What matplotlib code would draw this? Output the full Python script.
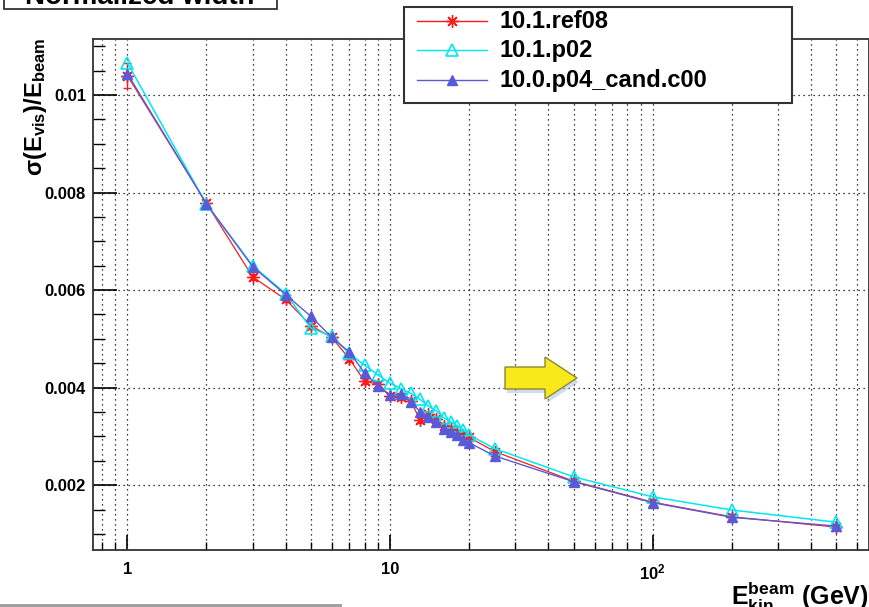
import numpy as np
import matplotlib.pyplot as plt
from matplotlib.patches import Rectangle, Polygon
from matplotlib.lines import Line2D
from matplotlib.ticker import FixedLocator, FixedFormatter, MultipleLocator, FuncFormatter

# ============================================================
# 1. data
# ============================================================

energy = [1, 2, 3, 4, 5, 6, 7, 8, 9, 10, 11, 12, 13, 14, 15,
          16, 17, 18, 19, 20, 25, 50, 100, 200, 500]

# 10.1.ref08
width_ref08 = [0.01040, 0.00778, 0.00627, 0.00581, 0.00527, 0.00503, 0.00459,
               0.00413, 0.00407, 0.00383, 0.00381, 0.00372, 0.00334, 0.00345,
               0.00336, 0.00322, 0.00315, 0.00308, 0.00303, 0.00298, 0.00269,
               0.00208, 0.00165, 0.00135, 0.00114]
err_ref08 = [0.00025, 0.00006, 0.00006, 0.00006, 0.00006, 0.00006, 0.00006,
             0.00006, 0.00006, 0.00006, 0.00006, 0.00006, 0.00006, 0.00006,
             0.00006, 0.00006, 0.00006, 0.00006, 0.00006, 0.00006, 0.00006,
             0.00006, 0.00006, 0.00006, 0.00006]

# 10.1.p02
width_p02 = [0.01066, 0.00776, 0.00650, 0.00593, 0.00522, 0.00505, 0.00470,
             0.00446, 0.00426, 0.00409, 0.00398, 0.00388, 0.00376, 0.00362,
             0.00352, 0.00338, 0.00330, 0.00322, 0.00313, 0.00303, 0.00275,
             0.00217, 0.00176, 0.00149, 0.00124]

# 10.0.p04_cand.c00
width_p04 = [0.01044, 0.00777, 0.00648, 0.00591, 0.00546, 0.00503, 0.00473,
             0.00430, 0.00403, 0.00384, 0.00386, 0.00371, 0.00351, 0.00340,
             0.00330, 0.00316, 0.00309, 0.00302, 0.00293, 0.00287, 0.00260,
             0.00207, 0.00164, 0.00134, 0.00116]

labels = ["10.1.ref08", "10.1.p02", "10.0.p04_cand.c00"]

y_ticks = [0.002, 0.004, 0.006, 0.008, 0.01]
x_ticks = [1, 10, 100]
x_ticklabels = ["1", "10", "10$^{2}$"]

# ============================================================
# 2. style
# ============================================================

plt.rcParams["font.family"] = ["Liberation Sans", "DejaVu Sans"]
plt.rcParams["font.weight"] = "bold"
plt.rcParams["mathtext.fontset"] = "custom"
plt.rcParams["mathtext.rm"] = "Liberation Sans:bold"
plt.rcParams["mathtext.bf"] = "Liberation Sans:bold"
plt.rcParams["mathtext.it"] = "Liberation Sans:bold"
plt.rcParams["mathtext.default"] = "bf"

W, H = 870, 607


def fx(px):
    return px / W


def fy(py):
    return 1 - py / H


c_red = "#ff1a1a"
c_cyan = "#00e8f0"
c_blue = "#5a5ad8"

# ============================================================
# 3. figure
# ============================================================

fig = plt.figure(figsize=(W / 100, H / 100), dpi=100)
ax = fig.add_axes([fx(93), fy(550), fx(869) - fx(93), fy(39) - fy(550)])

ax.errorbar(energy, width_ref08, yerr=err_ref08, color=c_red, lw=0.9,
            marker=(8, 2, 0), markersize=9, mew=1.0, capsize=3,
            elinewidth=1.0, zorder=3)
ax.plot(energy, width_p02, color=c_cyan, lw=1.1, marker="^",
        markersize=8.5, mfc="none", mec=c_cyan, mew=1.2, zorder=4)
ax.plot(energy, width_p04, color=c_blue, lw=1.0, marker="^",
        markersize=7.5, mfc=c_blue, mec=c_blue, zorder=5)

ax.set_xscale("log")
ax.set_xlim(0.74, 665)
ax.set_ylim(0.00067, 0.01115)

# ------------------------------------------------------------
# ticks
# ------------------------------------------------------------
ax.xaxis.set_major_locator(FixedLocator(x_ticks))
ax.xaxis.set_major_formatter(FixedFormatter(x_ticklabels))
minor_x = [m * 10.0 ** d for d in range(-1, 3) for m in range(2, 10)]
ax.xaxis.set_minor_locator(FixedLocator(minor_x))
ax.xaxis.set_minor_formatter(FixedFormatter([]))

ax.yaxis.set_major_locator(FixedLocator(y_ticks))
ax.yaxis.set_major_formatter(FuncFormatter(lambda v, p: f"{v:g}"))
ax.yaxis.set_minor_locator(MultipleLocator(0.0005))

ax.tick_params(axis="x", which="major", direction="in", length=10.5,
               width=1.2, pad=9, labelsize=12)
ax.tick_params(axis="x", which="minor", direction="in", length=5.5,
               width=1.0)
ax.tick_params(axis="y", which="major", direction="in", length=17,
               width=1.2, pad=5, labelsize=12)
ax.tick_params(axis="y", which="minor", direction="in", length=8.5,
               width=1.0)

# ------------------------------------------------------------
# grid
# ------------------------------------------------------------
ax.grid(which="major", axis="both", color="black", lw=0.9,
        linestyle=(0, (1, 3)))
ax.grid(which="minor", axis="x", color="black", lw=0.9,
        linestyle=(0, (1, 3)))
ax.set_axisbelow(True)

for s in ax.spines.values():
    s.set_linewidth(1.3)
    s.set_color("#333333")

# ============================================================
# 4. axis titles
# ============================================================

fig.text(fx(36), fy(38), "σ(E$_{vis}$)/E$_{beam}$", rotation=90,
         ha="center", va="top", fontsize=17, fontweight="bold")

fig.text(fx(869), fy(605), "E$^{beam}_{kin}$ (GeV)", ha="right",
         va="baseline", fontsize=18, fontweight="bold")

# ============================================================
# 5. title box (cut off at top)
# ============================================================

fig.add_artist(Rectangle((fx(4), fy(9)), fx(277) - fx(4), 0.05,
                         transform=fig.transFigure, facecolor="white",
                         edgecolor="#333333", lw=1.3, clip_on=False,
                         zorder=10))
fig.text(fx(140), fy(3.5), "Normalized width", ha="center", va="baseline",
         fontsize=20, fontweight="bold", zorder=11)

# ============================================================
# 6. legend
# ============================================================

fig.add_artist(Rectangle((fx(404), fy(103)), fx(792) - fx(404),
                         fy(7) - fy(103), transform=fig.transFigure,
                         facecolor="white", edgecolor="#333333", lw=1.5,
                         zorder=10))

rows = [21, 50, 80]
styles = [
    dict(color=c_red, marker=(8, 2, 0), markersize=9, mew=1.0,
         mfc=c_red, mec=c_red),
    dict(color=c_cyan, marker="^", markersize=8.5, mew=1.2,
         mfc="none", mec=c_cyan),
    dict(color=c_blue, marker="^", markersize=7.5, mew=1.0,
         mfc=c_blue, mec=c_blue),
]
for row, lab, st in zip(rows, labels, styles):
    fig.add_artist(Line2D([fx(417), fx(487)], [fy(row), fy(row)],
                          transform=fig.transFigure, color=st["color"],
                          lw=1.0, zorder=11))
    fig.add_artist(Line2D([fx(452)], [fy(row)], transform=fig.transFigure,
                          lw=0, marker=st["marker"],
                          markersize=st["markersize"], mew=st["mew"],
                          mfc=st["mfc"], mec=st["mec"], zorder=12))
    fig.text(fx(500), fy(row), lab, ha="left", va="center", fontsize=17,
             fontweight="bold", zorder=12)

# ============================================================
# 7. yellow arrow + bottom line
# ============================================================

arrow_pts = [(505, 367), (545, 367), (545, 357), (577, 378),
             (545, 399), (545, 389), (505, 389)]
shadow = Polygon([(fx(x + 2), fy(y + 4)) for x, y in arrow_pts],
                 closed=True, transform=fig.transFigure,
                 facecolor="#a9bad6", edgecolor="none", alpha=0.5,
                 zorder=8)
arrow = Polygon([(fx(x), fy(y)) for x, y in arrow_pts], closed=True,
                transform=fig.transFigure, facecolor="#f8e81c",
                edgecolor="#8a8a30", lw=1.0, zorder=9)
fig.add_artist(shadow)
fig.add_artist(arrow)

fig.add_artist(Line2D([0, fx(340)], [fy(605), fy(605)],
                      transform=fig.transFigure, color="#9a9a9a", lw=2))

fig.savefig("out.png", dpi=100)
